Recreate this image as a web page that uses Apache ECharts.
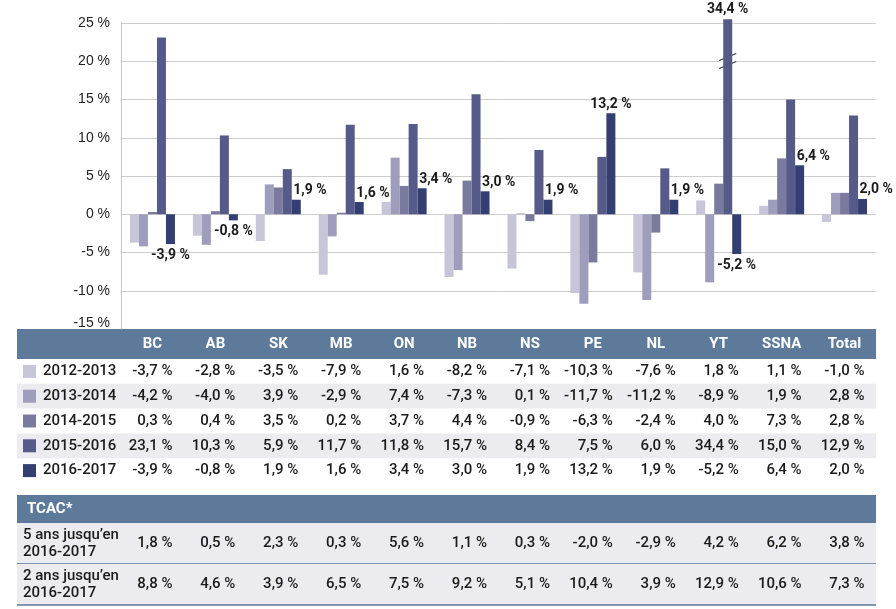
<!DOCTYPE html>
<html><head><meta charset="utf-8">
<script src="https://cdn.jsdelivr.net/npm/echarts@6/dist/echarts.min.js"></script>
<style>html,body{margin:0;padding:0;background:#fff}#c{width:896px;height:609px}</style>
</head><body><div id="c"></div>
<script>
const categories = ['BC','AB','SK','MB','ON','NB','NS','PE','NL','YT','SSNA','Total'];
const periods = ['2012-2013','2013-2014','2014-2015','2015-2016','2016-2017'];
const s1213 = [-3.7,-2.8,-3.5,-7.9,1.6,-8.2,-7.1,-10.3,-7.6,1.8,1.1,-1.0];
const s1314 = [-4.2,-4.0,3.9,-2.9,7.4,-7.3,0.1,-11.7,-11.2,-8.9,1.9,2.8];
const s1415 = [0.3,0.4,3.5,0.2,3.7,4.4,-0.9,-6.3,-2.4,4.0,7.3,2.8];
const s1516 = [23.1,10.3,5.9,11.7,11.8,15.7,8.4,7.5,6.0,34.4,15.0,12.9];
const s1617 = [-3.9,-0.8,1.9,1.6,3.4,3.0,1.9,13.2,1.9,-5.2,6.4,2.0];
const cagrLabels = [['5 ans jusqu’en','2016-2017'],['2 ans jusqu’en','2016-2017']];
const cagr5 = [1.8,0.5,2.3,0.3,5.6,1.1,0.3,-2.0,-2.9,4.2,6.2,3.8];
const cagr2 = [8.8,4.6,3.9,6.5,7.5,9.2,5.1,10.4,3.9,12.9,10.6,7.3];
const yTicks = {min:-15, max:25, step:5};
const Y_CAP = 25.5; // axis break: bars taller than this are cut

const colors = ['#c6c6d8','#9e9dbb','#7a7a9e','#555a88','#333f73'];
const allSeries = [s1213,s1314,s1415,s1516,s1617];
const fmt = v => v.toFixed(1).replace('.', ',') + ' %';
const labelFont = {fontFamily:'Roboto', fontWeight:'bold', fontSize:14, color:'#1b1b1b'};

const chart = echarts.init(document.getElementById('c'), null, {renderer:'canvas'});

const series = allSeries.map((arr, si) => ({
  type:'bar', name:periods[si], barWidth:9, barGap:'0%', clip:false,
  itemStyle:{color:colors[si]},
  data: arr.map((v, i) => {
    const item = {value: Math.min(v, Y_CAP)};
    if (si === 3 && v > Y_CAP) {
      item.label = Object.assign({show:true, position:'top', distance:3, formatter:fmt(v)}, labelFont);
    }
    if (si === 4) {
      let pos;
      if (v < 0) pos = {position:'bottom', distance:4};
      else if (categories[i] === 'PE') pos = {position:'top', distance:2};
      else pos = {position:[1.5,-9], align:'left', verticalAlign:'middle'};
      item.label = Object.assign({show:true, formatter:fmt(v)}, pos, labelFont);
    }
    return item;
  })
}));

chart.setOption({
  animation:false,
  grid:{left:121, right:20, top:23, bottom:280},
  xAxis:{type:'category', data:categories, axisLine:{show:false}, axisTick:{show:false}, axisLabel:{show:false}, splitLine:{show:false}},
  yAxis:{type:'value', min:yTicks.min, max:yTicks.max, interval:yTicks.step,
    axisLine:{show:true, lineStyle:{color:'#c4c4c4'}}, axisTick:{show:false},
    axisLabel:{formatter:v => v === yTicks.min ? '{lo|' + v + ' %}' : v + ' %', margin:11,
      fontFamily:'Liberation Sans', fontSize:14, color:'#222',
      rich:{lo:{fontFamily:'Liberation Sans', fontSize:14, color:'#222', padding:[0,0,12,0]}}},
    splitLine:{lineStyle:{color:'#cdcdcd'}}},
  series
});

// ---- graphic: axis break + data table ----
const g = [];
const L = 17, R = 876, TW = R - L;
const HEAD = '#5d7a9b', ALT = '#ebebf0';
const txt = (x, y, text, o) => ({type:'text', x, y, silent:true, style:Object.assign({text, fill:'#1b1b1b', fontFamily:'Roboto', fontWeight:500, fontSize:15, align:'right', verticalAlign:'middle'}, o||{})});

// axis break on capped bars
allSeries.forEach((arr, si) => arr.forEach((v, i) => {
  if (v > Y_CAP) {
    const lay = chart.getModel().getSeriesByIndex(si).getData().getItemLayout(i);
    const y0 = chart.convertToPixel({yAxisIndex:0}, 20.1);
    const x1 = lay.x - 4, x2 = lay.x + lay.width + 4;
    g.push({type:'polygon', silent:true, shape:{points:[[x1,y0],[x2,y0-7],[x2,y0+1],[x1,y0+8]]}, style:{fill:'#fff'}});
    g.push({type:'line', silent:true, shape:{x1, y1:y0, x2, y2:y0-7}, style:{stroke:'#333', lineWidth:1.2}});
    g.push({type:'line', silent:true, shape:{x1, y1:y0+8, x2, y2:y0+1}, style:{stroke:'#333', lineWidth:1.2}});
  }
}));

const cx = categories.map((c, i) => chart.convertToPixel({xAxisIndex:0}, i));
// header
g.push({type:'rect', silent:true, shape:{x:L, y:329, width:TW, height:30}, style:{fill:HEAD}});
categories.forEach((c, i) => g.push(txt(cx[i], 344, c, {fill:'#fff', fontWeight:'bold', align:'center'})));
// period rows
const rh = 24.8, r0 = 359;
periods.forEach((p, r) => {
  const top = r0 + r*rh, mid = top + rh/2;
  if (r % 2 === 1) g.push({type:'rect', silent:true, shape:{x:L, y:top, width:TW, height:rh}, style:{fill:ALT}});
  g.push({type:'rect', silent:true, shape:{x:23, y:mid-6.5, width:13, height:13}, style:{fill:colors[r]}});
  g.push(txt(43, mid, p, {align:'left'}));
  allSeries[r].forEach((v, i) => g.push(txt(cx[i] + 20, mid, fmt(v))));
});
// TCAC block
g.push({type:'rect', silent:true, shape:{x:L, y:495, width:TW, height:28}, style:{fill:HEAD}});
g.push(txt(27, 509.5, 'TCAC*', {fill:'#fff', fontWeight:'bold', align:'left'}));
[cagr5, cagr2].forEach((arr, r) => {
  const top = 523 + r*41, mid = top + 20.5;
  g.push({type:'rect', silent:true, shape:{x:L, y:top, width:TW, height:41}, style:{fill:ALT}});
  g.push({type:'line', silent:true, shape:{x1:L, y1:top+41, x2:R, y2:top+41}, style:{stroke:HEAD, lineWidth:1.5}});
  g.push(txt(23, mid-8.5, cagrLabels[r][0], {align:'left'}));
  g.push(txt(23, mid+9, cagrLabels[r][1], {align:'left'}));
  arr.forEach((v, i) => g.push(txt(cx[i] + 20, mid, fmt(v))));
});

chart.setOption({graphic:g});
</script>
</body></html>
